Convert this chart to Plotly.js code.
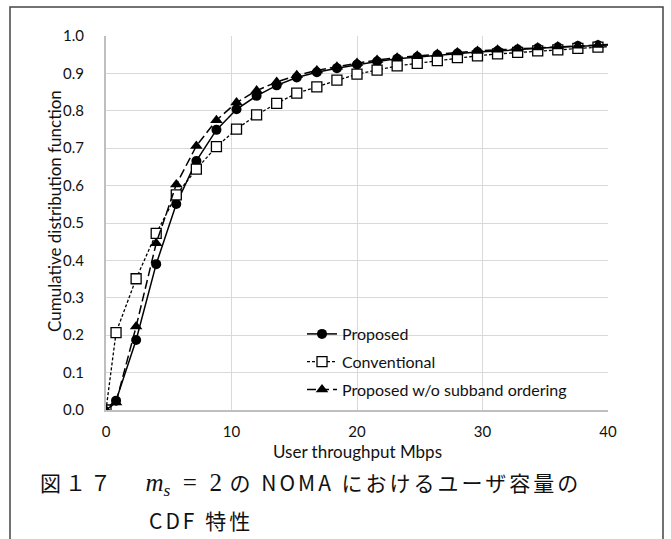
<!DOCTYPE html>
<html>
<head>
<meta charset="utf-8">
<script src="https://cdn.plot.ly/plotly-3.0.1.min.js"></script>
<style>
html,body{margin:0;padding:0;background:#fff;}
#chart{width:671px;height:539px;}
</style>
</head>
<body>
<div id="chart"></div>
<script>
// Data
const throughput = [0, 0.8, 2.4, 4.0, 5.6, 7.2, 8.8, 10.4, 12.0, 13.6, 15.2, 16.8, 18.4, 20.0, 21.6, 23.2, 24.8, 26.4, 28.0, 29.6, 31.2, 32.8, 34.4, 36.0, 37.6, 39.2, 40.8];
const cdfProposed = [0, 0.025, 0.187, 0.39, 0.551, 0.666, 0.749, 0.804, 0.84, 0.868, 0.889, 0.903, 0.914, 0.924, 0.932, 0.939, 0.944, 0.949, 0.953, 0.957, 0.96, 0.964, 0.967, 0.97, 0.973, 0.975, 0.977];
const cdfConventional = [0, 0.207, 0.351, 0.472, 0.575, 0.644, 0.704, 0.751, 0.789, 0.82, 0.847, 0.864, 0.882, 0.898, 0.909, 0.92, 0.927, 0.934, 0.942, 0.947, 0.952, 0.956, 0.96, 0.963, 0.967, 0.97, 0.973];
const cdfNoOrdering = [0, 0.02, 0.223, 0.446, 0.603, 0.706, 0.775, 0.822, 0.854, 0.877, 0.895, 0.908, 0.918, 0.928, 0.936, 0.942, 0.947, 0.952, 0.956, 0.96, 0.963, 0.966, 0.969, 0.972, 0.974, 0.976, 0.978];
const seriesNames = ["Proposed", "Conventional", "Proposed w/o subband ordering"];
const xTicks = [0, 10, 20, 30, 40];
const yTicks = [0, 0.1, 0.2, 0.3, 0.4, 0.5, 0.6, 0.7, 0.8, 0.9, 1.0];
const xTitle = "User throughput Mbps";
const yTitle = "Cumulative distribution function";
const captionFig = "図１７";
const captionMath = "<i>m</i><sub><i>s</i></sub>\u00A0\u00A0=\u00A0\u00A02";
const captionRest = " の NOMA におけるユーザ容量の";
const captionLine2 = "CDF 特性";

const FONT = "Lato, 'Noto Sans', sans-serif";
const CJK = "'Noto Sans CJK JP', 'Noto Sans', sans-serif";

const traces = [
  {
    x: throughput, y: cdfProposed, name: seriesNames[0], type: "scatter", mode: "lines+markers",
    line: {color: "#000", width: 1.5, dash: "solid"},
    marker: {symbol: "circle", size: 10, color: "#000"},
    legendgroup: "a"
  },
  {
    x: throughput, y: cdfConventional, name: seriesNames[1], type: "scatter", mode: "lines+markers",
    line: {color: "#000", width: 1.3, dash: "3px,2px"},
    marker: {symbol: "square", size: 10, color: "#fff", line: {color: "#000", width: 1.3}},
    legendgroup: "b"
  },
  {
    x: throughput, y: cdfNoOrdering, name: seriesNames[2], type: "scatter", mode: "lines+markers",
    line: {color: "#000", width: 1.5, dash: "9px,4px"},
    marker: {symbol: "triangle-up", size: 11, color: "#000"},
    legendgroup: "c"
  }
];

const L = 106, R = 608, T = 36, B = 410;
const px2x = p => (p - L) / (R - L);
const py2y = p => (B - p) / (B - T);

const layout = {
  width: 671, height: 539,
  margin: {l: L, r: 671 - R, t: T, b: 539 - B, pad: 0},
  paper_bgcolor: "#fff", plot_bgcolor: "#fff",
  showlegend: true,
  font: {family: FONT, size: 14, color: "#000"},
  xaxis: {
    range: [0, 40], tickvals: xTicks, ticktext: xTicks.map(String),
    showgrid: true, gridcolor: "#d9d9d9", gridwidth: 1,
    showline: true, linecolor: "#bfbfbf", linewidth: 2,
    zeroline: false,
    ticks: "outside", ticklen: 7, tickcolor: "rgba(0,0,0,0)",
    tickfont: {family: FONT, size: 15, color: "#111"},
    fixedrange: true
  },
  yaxis: {
    range: [0, 1.0], tickvals: yTicks, ticktext: yTicks.map(v => v.toFixed(1)),
    showgrid: true, gridcolor: "#d9d9d9", gridwidth: 1,
    showline: true, linecolor: "#bfbfbf", linewidth: 2,
    zeroline: false,
    ticks: "outside", ticklen: 17, tickcolor: "rgba(0,0,0,0)",
    tickfont: {family: FONT, size: 15, color: "#111"},
    fixedrange: true
  },
  legend: {
    x: px2x(302), y: py2y(317), xanchor: "left", yanchor: "top",
    bgcolor: "rgba(0,0,0,0)", borderwidth: 0,
    font: {family: FONT, size: 16, color: "#111"},
    tracegroupgap: 4, itemwidth: 30
  },
  annotations: [
    {xref: "paper", yref: "paper", x: px2x(54), y: py2y(211), xanchor: "center", yanchor: "middle",
     text: yTitle, textangle: -90, showarrow: false, font: {family: FONT, size: 17, color: "#111"}},
    {xref: "paper", yref: "paper", x: 0.5, y: py2y(451), xanchor: "center", yanchor: "middle",
     text: xTitle, showarrow: false, font: {family: FONT, size: 17, color: "#111"}},
    {xref: "paper", yref: "paper", x: px2x(38), y: py2y(483), xanchor: "left", yanchor: "middle",
     text: "<span style=\"letter-spacing:4px\">" + captionFig + "</span>　  " +
           "<span style=\"font-family:'Liberation Serif',serif;font-size:25px\">" + captionMath + "</span>" +
           "<span style=\"letter-spacing:3px\">" + captionRest + "</span>",
     showarrow: false, font: {family: CJK, size: 21, color: "#111"}},
    {xref: "paper", yref: "paper", x: px2x(147), y: py2y(520), xanchor: "left", yanchor: "middle",
     text: "<span style=\"letter-spacing:3px\">" + captionLine2 + "</span>", showarrow: false,
     font: {family: CJK, size: 21, color: "#111"}}
  ],
  shapes: [
    {type: "path", xref: "paper", yref: "paper",
     path: "M " + px2x(10) + "," + py2y(545) + " L " + px2x(10) + "," + py2y(7) + " L " + px2x(663) + "," + py2y(7) + " L " + px2x(663) + "," + py2y(545),
     line: {color: "#444", width: 1.5}, layer: "below"}
  ]
};

Plotly.newPlot("chart", traces, layout, {displayModeBar: false, staticPlot: true});
</script>
</body>
</html>
